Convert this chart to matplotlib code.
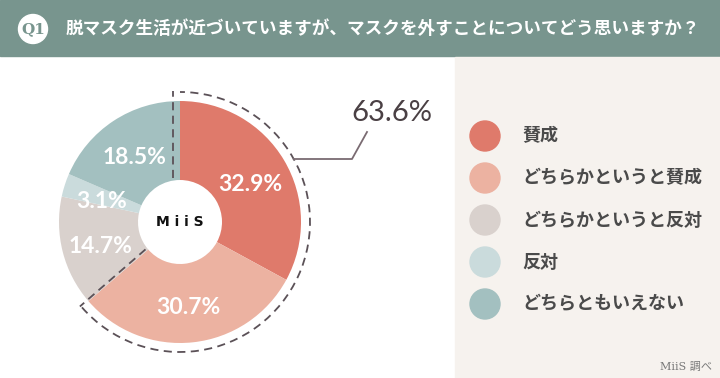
import matplotlib
matplotlib.use('Agg')
import matplotlib.pyplot as plt
from matplotlib.patches import Circle, Rectangle, Arc
import numpy as np

plt.rcParams['font.family'] = ['Noto Sans CJK JP', 'DejaVu Sans']

# ---------------- data ----------------
question_no = "Q1"
title = "脱マスク生活が近づいていますが、マスクを外すことについてどう思いますか？"
categories = ["賛成", "どちらかというと賛成", "どちらかというと反対", "反対", "どちらともいえない"]
values = [32.9, 30.7, 14.7, 3.1, 18.5]
colors = ["#df7a6b", "#ecb2a1", "#d9d1cd", "#cadbdc", "#a3c0c0"]
center_label = "M i i S"
source = "MiiS 調べ"

# ---------------- layout ----------------
W, H = 720, 378
fig = plt.figure(figsize=(7.2, 3.78), dpi=100)
ax = fig.add_axes([0, 0, 1, 1])


def Y(y):
    return H - y


header_col = "#78958e"
ax.add_patch(Rectangle((0, Y(56)), W, 56, color=header_col, zorder=0))
ax.add_patch(Rectangle((455, 0), W - 455, Y(57), color="#f6f2ee", zorder=0))

# header
ax.add_patch(Circle((33, Y(29)), 14.5, color="white", zorder=2))
ax.text(33, Y(29), question_no, ha="center", va="center", color=header_col,
        fontsize=11, fontweight="bold", family=["DejaVu Serif"], zorder=3)
ax.text(66, Y(29), title, ha="left", va="center", color="white",
        fontsize=12.7, fontweight="bold", zorder=3)

# donut
cx, cy = 180, Y(222)
R, hole = 121, 42
total = sum(values)
wedges, texts, autotexts = ax.pie(
    values, colors=colors, startangle=90, counterclock=False,
    radius=R, center=(cx, cy), frame=True,
    wedgeprops=dict(width=R - hole, linewidth=0),
    autopct=lambda p: f"{p * total / 100:.1f}%", pctdistance=82 / R,
    textprops=dict(color="white", fontsize=16.5, fontweight="bold",
                   family=["Lato", "DejaVu Sans"]))
for t in autotexts:
    x, y = t.get_position()
    t.set_position((x, y - 4))

ax.text(cx, cy, center_label, ha="center", va="center", color="#111111",
        fontsize=10, fontweight="bold", family=["DejaVu Sans"])

# dashed outline around the "agree" group
agree = values[0] + values[1]
theta_end = 90 - agree * 3.6
dash_col = "#5b5157"
ls = (0, (4.5, 3))
ax.add_patch(Arc((cx, cy), 2 * 130, 2 * 130, theta1=theta_end, theta2=90,
                 color=dash_col, lw=1.3, ls=ls, zorder=4))
for th, off in [(90, 7), (theta_end, -2)]:
    t = np.deg2rad(th)
    u = np.array([np.cos(t), np.sin(t)])
    p = np.array([-np.sin(t), np.cos(t)]) * off
    r = np.array([44, 131])
    ax.plot(cx + u[0] * r + p[0], cy + u[1] * r + p[1], color=dash_col,
            lw=1.3, ls=ls, zorder=4)

# callout
ang = np.arcsin(63 / 130)
x0 = cx + 130 * np.cos(ang)
ax.plot([x0, 352, 367], [Y(159), Y(159), Y(132)], color="#7a6b72", lw=1.3, zorder=4)
ax.text(351, Y(113), f"{agree:.1f}%", ha="left", va="center", color="#4a4044",
        fontsize=21, fontweight="normal", family=["Lato", "DejaVu Sans"])

# legend
for i, (cat, col) in enumerate(zip(categories, colors)):
    yy = Y(136 + 42 * i)
    ax.add_patch(Circle((485, yy), 15, color=col, zorder=2))
    ax.text(522, yy, cat, ha="left", va="center", color="#4a4a4a",
            fontsize=13, fontweight="bold")

ax.text(712, Y(367), source, ha="right", va="center", color="#777777",
        fontsize=8, family=["DejaVu Serif", "Noto Sans CJK JP"])

ax.set_xlim(0, W)
ax.set_ylim(0, H)
ax.set_aspect("equal")
ax.axis("off")

fig.savefig("out.png", dpi=100)
